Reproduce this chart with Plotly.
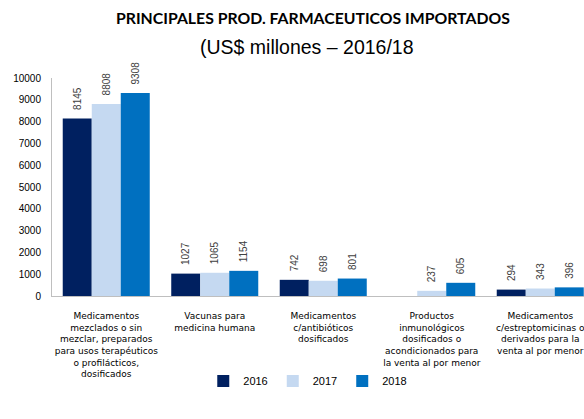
import plotly.graph_objects as go

categories = [
    "Medicamentos<br>mezclados o sin<br>mezclar, preparados<br>para usos terapéuticos<br>o profilácticos,<br>dosificados",
    "Vacunas para<br>medicina humana",
    "Medicamentos<br>c/antibióticos<br>dosificados",
    "Productos<br>inmunológicos<br>dosificados o<br>acondicionados para<br>la venta al por menor",
    "Medicamentos<br>c/estreptomicinas o<br>derivados para la<br>venta al por menor",
]
v2016 = [8145, 1027, 742, None, 294]
v2017 = [8808, 1065, 698, 237, 343]
v2018 = [9308, 1154, 801, 605, 396]
years = ["2016", "2017", "2018"]
colors = ["#002060", "#C5D9F1", "#0070C0"]

font = "Liberation Sans"
fig = go.Figure()
for name, vals, col in zip(years, [v2016, v2017, v2018], colors):
    fig.add_trace(go.Bar(
        x=list(range(len(categories))), y=vals, name=name,
        marker=dict(color=col, line=dict(width=0)),
        text=[("" if v is None else "\u00a0\u00a0" + str(v)) for v in vals],
        textposition="outside", textangle=-90,
        textfont=dict(size=10, color="#404040", family=font),
        cliponaxis=False,
    ))

W, H = 584, 419
left, top, bottom = 52, 78, 296
cat_px = 108.5
center4 = left + 4.5 * cat_px
xr = [-0.5, 4 + (W - center4) / cat_px]

fig.update_layout(
    width=W, height=H,
    margin=dict(l=left, r=0, t=top, b=H - bottom, autoexpand=False),
    paper_bgcolor="white", plot_bgcolor="white",
    barmode="group", bargap=0.198, bargroupgap=0,
    font=dict(family=font, size=10, color="#000000"),
    xaxis=dict(
        range=xr, tickmode="array", tickvals=list(range(len(categories))),
        ticktext=categories, showline=True, linecolor="#BFBFBF", linewidth=1,
        ticks="", showgrid=False, zeroline=False, automargin=False,
        ticklabeloverflow="allow", ticklabelstandoff=11,
        tickfont=dict(size=9, color="#000000", family="DejaVu Sans"),
    ),
    yaxis=dict(
        range=[0, 10000], dtick=1000, tickformat="d", showline=True,
        linecolor="#BFBFBF", linewidth=1, ticks="", showgrid=False,
        zeroline=False, automargin=False, ticklabelstandoff=8,
        tickfont=dict(size=10, color="#000000", family=font),
    ),
    legend=dict(
        orientation="h", xref="container", yref="container",
        x=0.527, y=1 - 381 / H, xanchor="center", yanchor="middle",
        font=dict(size=11, family=font, color="#000000"),
        itemwidth=30, traceorder="normal",
    ),
    showlegend=True,
    annotations=[
        dict(text="<b>PRINCIPALES PROD. FARMACEUTICOS IMPORTADOS</b>",
             xref="paper", yref="paper", x=(313 - left) / (W - left),
             y=1 + (top - 18) / (bottom - top), xanchor="center", yanchor="middle",
             showarrow=False, font=dict(size=15.8, family="Lato", color="#000000")),
        dict(text="(US$ millones – 2016/18",
             xref="paper", yref="paper", x=(307 - left) / (W - left),
             y=1 + (top - 47) / (bottom - top), xanchor="center", yanchor="middle",
             showarrow=False, font=dict(size=19.5, family=font, color="#000000")),
    ],
)

fig.write_html(
    "out.html",
    config={"displayModeBar": False},
    post_script="document.body.style.margin='0';document.body.style.overflow='hidden';",
)
